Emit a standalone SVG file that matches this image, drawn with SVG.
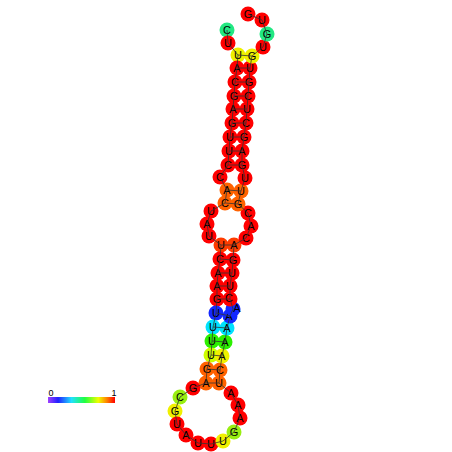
<svg xmlns="http://www.w3.org/2000/svg" width="452" height="452" viewBox="0 0 452 452">
<defs>
<style>
.n circle{stroke:none}
.n text{font-family:"Liberation Sans",Arial,sans-serif;font-size:11px;fill:#000;text-anchor:middle;dominant-baseline:central}
.bb{stroke:#333;stroke-width:0.8;fill:none}
.bp{stroke:#333;stroke-width:0.8}
.lbl{font-family:"Liberation Sans",Arial,sans-serif;font-size:9px;fill:#000;text-anchor:middle}
.r{fill:#ff0000}.o{fill:#ff6200}.or{fill:#ff3c00}.y{fill:#eef000}.mg{fill:#22e882}
.b{fill:#1428ff}.c{fill:#00e2ff}.g{fill:#2cf000}.yg{fill:#ccff00}.yl{fill:#f0f000}.lg{fill:#99ee11}
</style>
<linearGradient id="cb" x1="0" y1="0" x2="1" y2="0">
<stop offset="0" stop-color="#a040ff"/>
<stop offset="0.15" stop-color="#2020ff"/>
<stop offset="0.35" stop-color="#20e0ff"/>
<stop offset="0.55" stop-color="#20ff40"/>
<stop offset="0.75" stop-color="#f0ff00"/>
<stop offset="0.88" stop-color="#ff8000"/>
<stop offset="1" stop-color="#ff0000"/>
</linearGradient>
</defs>
<rect width="452" height="452" fill="#fff"/>
<g id="nodes">
<g id="n1" class="n"><circle cx="227" cy="30" r="7.5" class="mg"/><text x="227" y="30">C</text></g>
<g id="n2" class="n"><circle cx="228" cy="43" r="7.5" class="r"/><text x="228" y="43">U</text></g>
<g id="n3" class="n"><circle cx="238" cy="55" r="7.5" class="y"/><text x="238" y="55">U</text></g>
<g id="n4" class="n"><circle cx="237" cy="68" r="7.5" class="r"/><text x="237" y="68">A</text></g>
<g id="n5" class="n"><circle cx="235" cy="82" r="7.5" class="r"/><text x="235" y="82">C</text></g>
<g id="n6" class="n"><circle cx="234" cy="96" r="7.5" class="r"/><text x="234" y="96">G</text></g>
<g id="n7" class="n"><circle cx="233" cy="109" r="7.5" class="r"/><text x="233" y="109">A</text></g>
<g id="n8" class="n"><circle cx="232" cy="123" r="7.5" class="r"/><text x="232" y="123">G</text></g>
<g id="n9" class="n"><circle cx="230" cy="137" r="7.5" class="r"/><text x="230" y="137">U</text></g>
<g id="n10" class="n"><circle cx="229" cy="151" r="7.5" class="r"/><text x="229" y="151">U</text></g>
<g id="n11" class="n"><circle cx="228" cy="165" r="7.5" class="r"/><text x="228" y="165">C</text></g>
<g id="n12" class="n"><circle cx="220" cy="177" r="7.5" class="r"/><text x="220" y="177">C</text></g>
<g id="n13" class="n"><circle cx="227" cy="190" r="7.5" class="o"/><text x="227" y="190">A</text></g>
<g id="n14" class="n"><circle cx="225" cy="203" r="7.5" class="o"/><text x="225" y="203">C</text></g>
<g id="n15" class="n"><circle cx="211" cy="211" r="7.5" class="r"/><text x="211" y="211">U</text></g>
<g id="n16" class="n"><circle cx="207" cy="224" r="7.5" class="r"/><text x="207" y="224">A</text></g>
<g id="n17" class="n"><circle cx="209" cy="236" r="7.5" class="r"/><text x="209" y="236">U</text></g>
<g id="n18" class="n"><circle cx="221" cy="245" r="7.5" class="or"/><text x="221" y="245">U</text></g>
<g id="n19" class="n"><circle cx="220" cy="259" r="7.5" class="r"/><text x="220" y="259">C</text></g>
<g id="n20" class="n"><circle cx="218" cy="273" r="7.5" class="r"/><text x="218" y="273">A</text></g>
<g id="n21" class="n"><circle cx="217" cy="286" r="7.5" class="r"/><text x="217" y="286">A</text></g>
<g id="n22" class="n"><circle cx="217" cy="299" r="7.5" class="r"/><text x="217" y="299">G</text></g>
<g id="n23" class="n"><circle cx="216" cy="313" r="7.5" class="b"/><text x="216" y="313">U</text></g>
<g id="n24" class="n"><circle cx="213" cy="327" r="7.5" class="c"/><text x="213" y="327">U</text></g>
<g id="n25" class="n"><circle cx="212" cy="341" r="7.5" class="g"/><text x="212" y="341">U</text></g>
<g id="n26" class="n"><circle cx="211" cy="355" r="7.5" class="yg"/><text x="211" y="355">U</text></g>
<g id="n27" class="n"><circle cx="207" cy="369" r="7.5" class="o"/><text x="207" y="369">G</text></g>
<g id="n28" class="n"><circle cx="206" cy="383" r="7.5" class="o"/><text x="206" y="383">A</text></g>
<g id="n29" class="n"><circle cx="193" cy="388" r="7.5" class="r"/><text x="193" y="388">G</text></g>
<g id="n30" class="n"><circle cx="180" cy="397" r="7.5" class="lg"/><text x="180" y="397">C</text></g>
<g id="n31" class="n"><circle cx="175" cy="411" r="7.5" class="yl"/><text x="175" y="411">G</text></g>
<g id="n32" class="n"><circle cx="177" cy="424" r="7.5" class="r"/><text x="177" y="424">U</text></g>
<g id="n33" class="n"><circle cx="186" cy="435" r="7.5" class="r"/><text x="186" y="435">A</text></g>
<g id="n34" class="n"><circle cx="198" cy="443" r="7.5" class="r"/><text x="198" y="443">U</text></g>
<g id="n35" class="n"><circle cx="211" cy="444" r="7.5" class="r"/><text x="211" y="444">U</text></g>
<g id="n36" class="n"><circle cx="223" cy="441" r="7.5" class="yl"/><text x="223" y="441">U</text></g>
<g id="n37" class="n"><circle cx="234" cy="432" r="7.5" class="lg"/><text x="234" y="432">G</text></g>
<g id="n38" class="n"><circle cx="240" cy="418" r="7.5" class="r"/><text x="240" y="418">A</text></g>
<g id="n39" class="n"><circle cx="238" cy="405" r="7.5" class="r"/><text x="238" y="405">A</text></g>
<g id="n40" class="n"><circle cx="231" cy="393" r="7.5" class="r"/><text x="231" y="393">A</text></g>
<g id="n41" class="n"><circle cx="219" cy="383" r="7.5" class="o"/><text x="219" y="383">U</text></g>
<g id="n42" class="n"><circle cx="220" cy="370" r="7.5" class="o"/><text x="220" y="370">C</text></g>
<g id="n43" class="n"><circle cx="222" cy="356" r="7.5" class="yl"/><text x="222" y="356">A</text></g>
<g id="n44" class="n"><circle cx="225" cy="342" r="7.5" class="g"/><text x="225" y="342">A</text></g>
<g id="n45" class="n"><circle cx="227" cy="328" r="7.5" class="c"/><text x="227" y="328">A</text></g>
<g id="n46" class="n"><circle cx="230" cy="316" r="7.5" class="b"/><text x="229" y="316" font-size="9">A</text></g>
<g id="n47" class="n"><circle cx="233" cy="309" r="7.5" class="b"/><text x="237" y="308" font-size="8">A</text></g>
<g id="n48" class="n"><circle cx="230" cy="299" r="7.5" class="r"/><text x="229" y="298">C</text></g>
<g id="n49" class="n"><circle cx="230" cy="286" r="7.5" class="r"/><text x="230" y="286">U</text></g>
<g id="n50" class="n"><circle cx="232" cy="273" r="7.5" class="r"/><text x="232" y="273">U</text></g>
<g id="n51" class="n"><circle cx="233" cy="260" r="7.5" class="r"/><text x="233" y="260">G</text></g>
<g id="n52" class="n"><circle cx="234" cy="245" r="7.5" class="or"/><text x="234" y="245">A</text></g>
<g id="n53" class="n"><circle cx="246" cy="238" r="7.5" class="r"/><text x="246" y="238">C</text></g>
<g id="n54" class="n"><circle cx="251" cy="226" r="7.5" class="r"/><text x="251" y="226">A</text></g>
<g id="n55" class="n"><circle cx="248" cy="213" r="7.5" class="r"/><text x="248" y="213">C</text></g>
<g id="n56" class="n"><circle cx="238" cy="204" r="7.5" class="o"/><text x="238" y="204">G</text></g>
<g id="n57" class="n"><circle cx="241" cy="191" r="7.5" class="o"/><text x="241" y="191">U</text></g>
<g id="n58" class="n"><circle cx="245" cy="178" r="7.5" class="r"/><text x="245" y="178">U</text></g>
<g id="n59" class="n"><circle cx="242" cy="165" r="7.5" class="r"/><text x="242" y="165">G</text></g>
<g id="n60" class="n"><circle cx="242" cy="151" r="7.5" class="r"/><text x="242" y="151">A</text></g>
<g id="n61" class="n"><circle cx="244" cy="137" r="7.5" class="r"/><text x="244" y="137">G</text></g>
<g id="n62" class="n"><circle cx="246" cy="123" r="7.5" class="r"/><text x="246" y="123">C</text></g>
<g id="n63" class="n"><circle cx="247" cy="109" r="7.5" class="r"/><text x="247" y="109">U</text></g>
<g id="n64" class="n"><circle cx="248" cy="96" r="7.5" class="r"/><text x="248" y="96">C</text></g>
<g id="n65" class="n"><circle cx="249" cy="82" r="7.5" class="r"/><text x="249" y="82">G</text></g>
<g id="n66" class="n"><circle cx="250" cy="68" r="7.5" class="r"/><text x="250" y="68">U</text></g>
<g id="n67" class="n"><circle cx="252" cy="56" r="7.5" class="y"/><text x="252" y="56">G</text></g>
<g id="n68" class="n"><circle cx="263" cy="47" r="7.5" class="r"/><text x="263" y="47">U</text></g>
<g id="n69" class="n"><circle cx="267" cy="34" r="7.5" class="mg"/><text x="267" y="34">G</text></g>
<g id="n70" class="n"><circle cx="262" cy="20" r="7.5" class="r"/><text x="262" y="20">U</text></g>
<g id="n71" class="n"><circle cx="248" cy="14" r="7.5" class="r"/><text x="248" y="14">G</text></g>
</g>
<g id="connectors">
<polyline class="bb" points="227,30 228,43 238,55 237,68 235,82 234,96 233,109 232,123 230,137 229,151 228,165 220,177 227,190 225,203 211,211 207,224 209,236 221,245 220,259 218,273 217,286 217,299 216,313 213,327 212,341 211,355 207,369 206,383 193,388 180,397 175,411 177,424 186,435 198,443 211,444 223,441 234,432 240,418 238,405 231,393 219,383 220,370 222,356 225,342 227,328 230,316 233,309 230,299 230,286 232,273 233,260 234,245 246,238 251,226 248,213 238,204 241,191 245,178 242,165 242,151 244,137 246,123 247,109 248,96 249,82 250,68 252,56 263,47 267,34 262,20 248,14"/>
<line class="bp" x1="238" y1="55" x2="252" y2="56"/>
<line class="bp" x1="237" y1="68" x2="250" y2="68"/>
<line class="bp" x1="235" y1="82" x2="249" y2="82"/>
<line class="bp" x1="234" y1="96" x2="248" y2="96"/>
<line class="bp" x1="233" y1="109" x2="247" y2="109"/>
<line class="bp" x1="232" y1="123" x2="246" y2="123"/>
<line class="bp" x1="230" y1="137" x2="244" y2="137"/>
<line class="bp" x1="229" y1="151" x2="242" y2="151"/>
<line class="bp" x1="228" y1="165" x2="242" y2="165"/>
<line class="bp" x1="227" y1="190" x2="241" y2="191"/>
<line class="bp" x1="225" y1="203" x2="238" y2="204"/>
<line class="bp" x1="221" y1="245" x2="234" y2="245"/>
<line class="bp" x1="220" y1="259" x2="233" y2="260"/>
<line class="bp" x1="218" y1="273" x2="232" y2="273"/>
<line class="bp" x1="217" y1="286" x2="230" y2="286"/>
<line class="bp" x1="217" y1="299" x2="230" y2="299"/>
<line class="bp" x1="216" y1="313" x2="230" y2="316"/>
<line class="bp" x1="213" y1="327" x2="227" y2="328"/>
<line class="bp" x1="212" y1="341" x2="225" y2="342"/>
<line class="bp" x1="211" y1="355" x2="222" y2="356"/>
<line class="bp" x1="207" y1="369" x2="220" y2="370"/>
<line class="bp" x1="206" y1="383" x2="219" y2="383"/>
</g>
<g id="legend">
<rect x="48" y="397" width="67" height="6" fill="url(#cb)"/>
<text class="lbl" x="51" y="396">0</text>
<text class="lbl" x="114" y="396">1</text>
</g>
</svg>
